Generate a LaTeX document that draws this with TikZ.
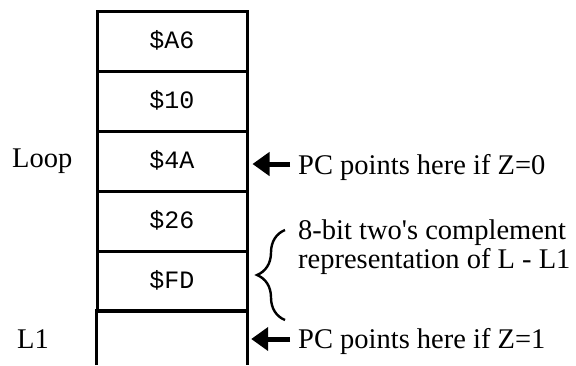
\documentclass[tikz,border=0pt]{standalone}
\usepackage{fontspec}
\setmainfont{Liberation Serif}
\setmonofont{Liberation Mono}
\usetikzlibrary{arrows.meta,calc,decorations.pathreplacing}
\begin{document}
\begin{tikzpicture}[x=1pt,y=-1pt,
  cell/.style={draw, line width=3pt, minimum width=150pt, minimum height=60pt,
    inner sep=0pt, text height=14pt, text depth=0pt,
    font=\fontsize{25}{25}\selectfont\ttfamily},
  colline/.style={line width=3pt},
  lbl/.style={inner sep=0pt, anchor=base west, align=left,
    font=\fontsize{28.5}{29}\selectfont},
  bigarrow/.style={line width=5pt, -{Triangle[length=17pt,width=23pt]}},
  bracestyle/.style={line width=2.4pt, decorate, decoration={brace, amplitude=28pt}},
]
\useasboundingbox (0,0) rectangle (576,365);
\node[cell] (c1) at (172,41) {\$A6};
\node[cell] (c2) at (172,101) {\$10};
\node[cell] (c3) at (172,161) {\$4A};
\node[cell] (c4) at (172,221) {\$26};
\node[cell] (c5) at (172,281) {\$FD};
\node[minimum width=150pt, minimum height=54pt, inner sep=0pt] (c6) at (172,338) {};
\draw[colline] (c6.south west) -- (c6.north west) -- (c6.north east) -- (c6.south east);

\node[lbl] (loop) at (12,167) {Loop};
\node[lbl] (l1) at (17,348) {L1};

\node[lbl] (p0) at (298,174) {PC points here if Z=0};
\node[lbl] (p1) at (298,348) {PC points here if Z=1};
\draw[bigarrow] ($(p0.base west)+(-8pt,10pt)$) -- ($(p0.base west -| c3.east)+(4pt,10pt)$);
\draw[bigarrow] ($(p1.base west)+(-8pt,9pt)$) -- ($(p1.base west -| c6.east)+(4pt,9pt)$);

\node[lbl] (note) at (298,268) {8-bit two\textquotesingle s complement\\representation of L - L1};
\coordinate (bb) at (285,320);
\coordinate (bt) at (285,230);
\draw[bracestyle] (bb) -- (bt);
\end{tikzpicture}
\end{document}
